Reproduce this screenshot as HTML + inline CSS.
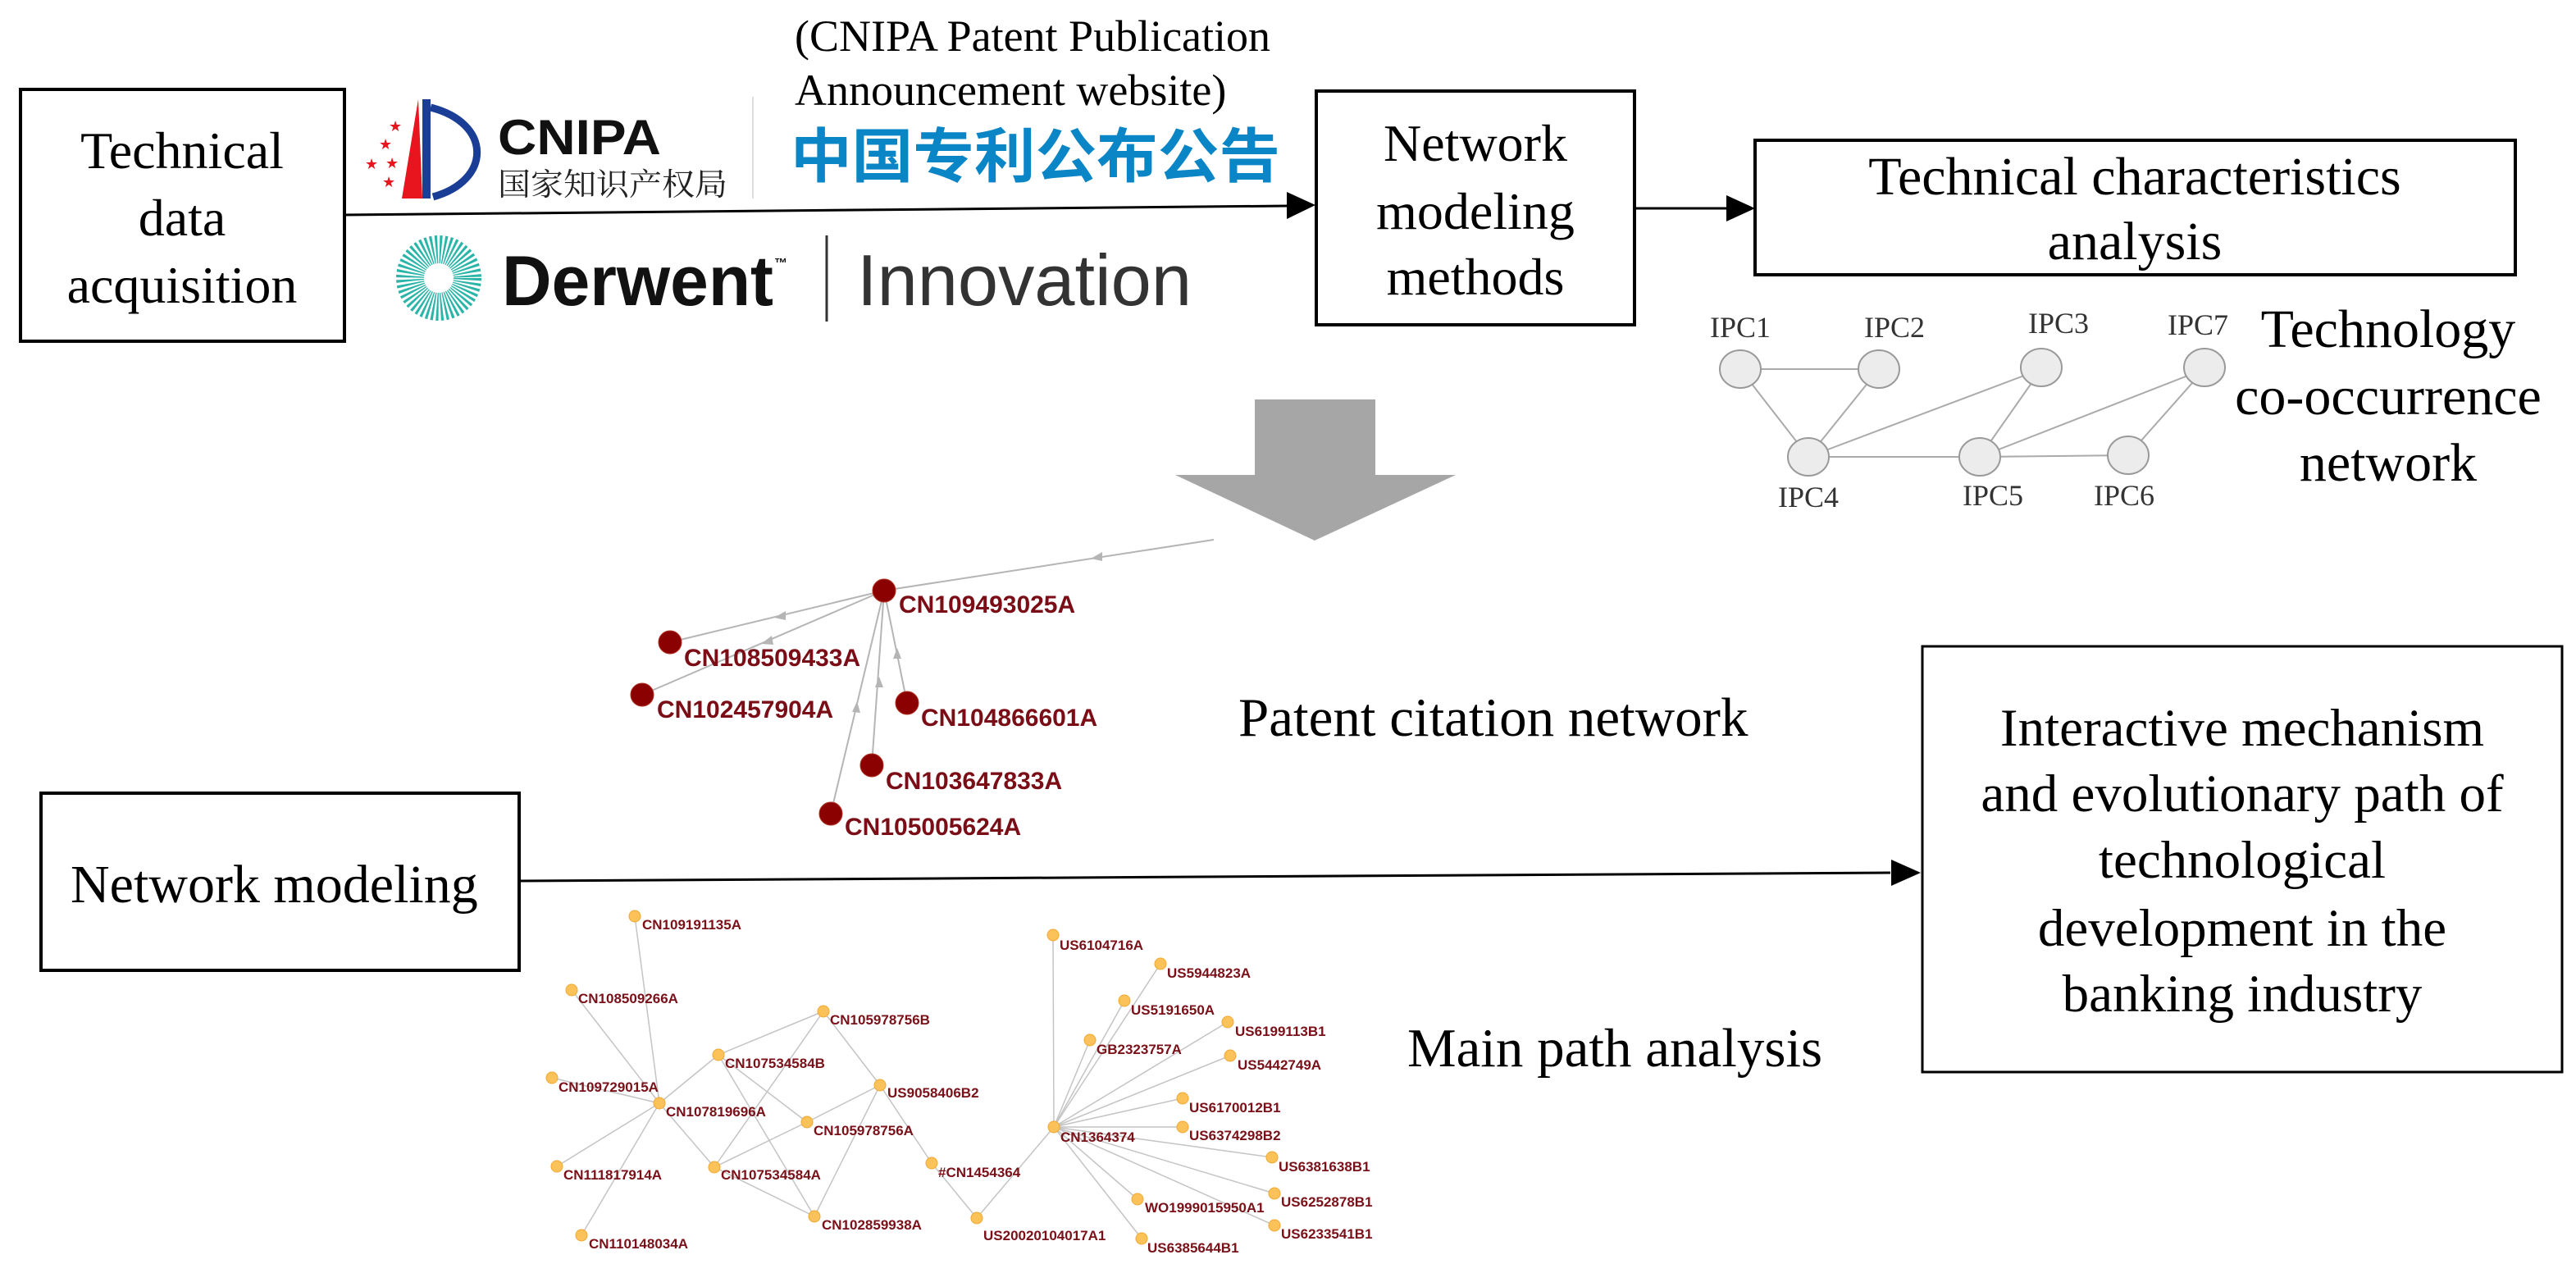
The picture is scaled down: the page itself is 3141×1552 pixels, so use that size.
<!DOCTYPE html>
<html><head><meta charset="utf-8"><style>
html,body{margin:0;padding:0;background:#fff;}
svg{display:block;}
.s{font-family:"Liberation Serif",serif;fill:#000;}
.c{font-family:"Liberation Sans",Arial,sans-serif;font-weight:bold;fill:#7a0d16;}
.m{font-family:"Liberation Sans",Arial,sans-serif;font-weight:bold;fill:#7a1018;font-size:17px;}
</style></head><body>
<svg width="3141" height="1552" viewBox="0 0 3141 1552" xmlns="http://www.w3.org/2000/svg">
<rect width="3141" height="1552" fill="#fff"/>

<!-- Boxes -->
<rect x="25" y="109" width="395" height="307" fill="none" stroke="#000" stroke-width="4"/>
<text class="s" font-size="64" text-anchor="middle" x="222" y="205">Technical</text>
<text class="s" font-size="64" text-anchor="middle" x="222" y="287">data</text>
<text class="s" font-size="64" text-anchor="middle" x="222" y="369">acquisition</text>

<rect x="1605" y="111" width="388" height="285" fill="none" stroke="#000" stroke-width="4"/>
<text class="s" font-size="64" text-anchor="middle" x="1799" y="196">Network</text>
<text class="s" font-size="64" text-anchor="middle" x="1799" y="279">modeling</text>
<text class="s" font-size="64" text-anchor="middle" x="1799" y="359">methods</text>

<rect x="2140" y="171" width="927" height="164" fill="none" stroke="#000" stroke-width="4"/>
<text class="s" font-size="66" text-anchor="middle" x="2603" y="237">Technical characteristics</text>
<text class="s" font-size="66" text-anchor="middle" x="2603" y="316">analysis</text>

<rect x="50" y="967" width="583" height="216" fill="none" stroke="#000" stroke-width="4"/>
<text class="s" font-size="66" x="86" y="1100">Network modeling</text>

<rect x="2344" y="788" width="780" height="519" fill="none" stroke="#000" stroke-width="3"/>
<g class="s" font-size="65" text-anchor="middle">
<text x="2734" y="909">Interactive mechanism</text>
<text x="2734" y="989">and evolutionary path of</text>
<text x="2734" y="1070">technological</text>
<text x="2734" y="1153">development in the</text>
<text x="2734" y="1233">banking industry</text>
</g>

<!-- Arrows -->
<line x1="420" y1="262" x2="1570" y2="251" stroke="#000" stroke-width="3"/>
<polygon points="1604,250 1569,234 1569,267" fill="#000"/>
<line x1="1993" y1="254" x2="2105" y2="254" stroke="#000" stroke-width="3"/>
<polygon points="2140,254 2105,238 2105,270" fill="#000"/>
<line x1="633" y1="1074" x2="2305" y2="1064" stroke="#000" stroke-width="3"/>
<polygon points="2342,1064 2306,1048 2306,1080" fill="#000"/>

<!-- Gray big arrow -->
<polygon points="1530,487 1677,487 1677,579 1775,579 1603,659 1433,579 1530,579" fill="#a6a6a6"/>

<!-- CNIPA text -->
<text class="s" font-size="54" x="969" y="62">(CNIPA Patent Publication</text>
<text class="s" font-size="54" x="969" y="128">Announcement website)</text>
<text x="964" y="216" font-family="'Noto Sans CJK SC','WenQuanYi Zen Hei',sans-serif" font-weight="bold" font-size="72" fill="#0a86c6" textLength="597" lengthAdjust="spacingAndGlyphs">中国专利公布公告</text>

<!-- CNIPA logo -->
<g>
<polygon points="510,121 515,242 490,242" fill="#e8141e"/>
<rect x="515" y="121" width="10" height="121" fill="#1a3e96"/>
<path d="M525,131 C600,150 600,220 528,240" fill="none" stroke="#1a3e96" stroke-width="9"/>
<g fill="#e8141e" font-size="18" font-family="'DejaVu Sans',sans-serif">
<text x="474" y="160">★</text><text x="462" y="182">★</text><text x="470" y="205">★</text><text x="445" y="206">★</text><text x="466" y="228">★</text>
</g>
<text x="607" y="188" font-family="'Liberation Sans',sans-serif" font-weight="bold" font-size="60" fill="#111" textLength="199" lengthAdjust="spacingAndGlyphs">CNIPA</text>
<text x="607" y="238" font-family="'Noto Serif CJK SC','Noto Sans CJK SC',serif" font-size="38" fill="#222" textLength="280" lengthAdjust="spacingAndGlyphs">国家知识产权局</text>
<line x1="918" y1="118" x2="918" y2="242" stroke="#ddd" stroke-width="2"/>
</g>

<!-- Derwent logo -->
<circle cx="535" cy="339" r="35" fill="none" stroke="#2bb5a8" stroke-width="34" stroke-dasharray="2.3 2.3"/>
<text x="612" y="372" font-family="'Liberation Sans',sans-serif" font-weight="bold" font-size="86" fill="#111" textLength="331" lengthAdjust="spacingAndGlyphs">Derwent</text>
<text x="944" y="326" font-family="'Liberation Sans',sans-serif" font-weight="bold" font-size="16" fill="#111">™</text>
<line x1="1008" y1="287" x2="1008" y2="392" stroke="#333" stroke-width="3"/>
<text x="1045" y="372" font-family="'Liberation Sans',sans-serif" font-size="88" fill="#333" textLength="408" lengthAdjust="spacingAndGlyphs">Innovation</text>

<!-- IPC network -->
<g stroke="#aaa" stroke-width="2">
<line x1="2122" y1="450" x2="2291" y2="450"/>
<line x1="2122" y1="450" x2="2205" y2="557"/>
<line x1="2291" y1="450" x2="2205" y2="557"/>
<line x1="2205" y1="557" x2="2489" y2="450"/>
<line x1="2205" y1="557" x2="2414" y2="557"/>
<line x1="2414" y1="557" x2="2489" y2="450"/>
<line x1="2414" y1="557" x2="2688" y2="450"/>
<line x1="2414" y1="557" x2="2595" y2="555"/>
<line x1="2595" y1="555" x2="2688" y2="450"/>
</g>
<g fill="#ececec" stroke="#999" stroke-width="2">
<ellipse cx="2122" cy="450" rx="25" ry="23"/>
<ellipse cx="2291" cy="450" rx="25" ry="23"/>
<ellipse cx="2489" cy="448" rx="25" ry="23"/>
<ellipse cx="2688" cy="448" rx="25" ry="23"/>
<ellipse cx="2205" cy="557" rx="25" ry="23"/>
<ellipse cx="2414" cy="557" rx="25" ry="23"/>
<ellipse cx="2595" cy="555" rx="25" ry="23"/>
</g>
<g font-family="'Liberation Serif',serif" font-size="36" fill="#333" text-anchor="middle">
<text x="2122" y="411">IPC1</text><text x="2310" y="411">IPC2</text><text x="2510" y="406">IPC3</text><text x="2680" y="408">IPC7</text>
<text x="2205" y="618">IPC4</text><text x="2430" y="616">IPC5</text><text x="2590" y="616">IPC6</text>
</g>
<g class="s" font-size="66" text-anchor="middle">
<text x="2912" y="423">Technology</text>
<text x="2912" y="505">co-occurrence</text>
<text x="2912" y="586">network</text>
</g>

<!-- Patent citation network -->
<g stroke="#b5b5b5" stroke-width="2">
<line x1="1078" y1="720" x2="1480" y2="658"/>
<line x1="1078" y1="720" x2="817" y2="783"/>
<line x1="1078" y1="720" x2="783" y2="847"/>
<line x1="1078" y1="720" x2="1106" y2="857"/>
<line x1="1078" y1="720" x2="1063" y2="933"/>
<line x1="1078" y1="720" x2="1013" y2="992"/>
</g>
<g fill="#b5b5b5">
<polygon points="1330,681 1344,673 1344,684"/>
<polygon points="944,753 958,745 958,756"/>
<polygon points="928,785 941,775 943,786"/>
<polygon points="1094,790 1089,803 1099,803"/>
<polygon points="1072,825 1067,838 1077,838"/>
<polygon points="1045,855 1039,868 1049,869"/>
</g>
<g fill="#8b0000" stroke="#b03020" stroke-width="1">
<circle cx="1078" cy="720" r="14"/>
<circle cx="817" cy="783" r="14"/>
<circle cx="783" cy="847" r="14"/>
<circle cx="1106" cy="857" r="14"/>
<circle cx="1063" cy="933" r="14"/>
<circle cx="1013" cy="992" r="14"/>
</g>
<g class="c" font-size="30">
<text x="1096" y="747">CN109493025A</text>
<text x="834" y="812">CN108509433A</text>
<text x="801" y="875">CN102457904A</text>
<text x="1123" y="885">CN104866601A</text>
<text x="1080" y="962">CN103647833A</text>
<text x="1030" y="1018">CN105005624A</text>
</g>
<text class="s" font-size="67" x="1510" y="897">Patent citation network</text>
<text class="s" font-size="67" x="1716" y="1300">Main path analysis</text>

<!-- Main path network -->
<g stroke="#c4c4c4" stroke-width="1.5">
<line x1="774" y1="1117" x2="804" y2="1345"/>
<line x1="697" y1="1207" x2="804" y2="1345"/>
<line x1="673" y1="1314" x2="804" y2="1345"/>
<line x1="679" y1="1422" x2="804" y2="1345"/>
<line x1="709" y1="1506" x2="804" y2="1345"/>
<line x1="804" y1="1345" x2="876" y2="1286"/>
<line x1="804" y1="1345" x2="871" y2="1423"/>
<line x1="876" y1="1286" x2="1004" y2="1233"/>
<line x1="876" y1="1286" x2="984" y2="1368"/>
<line x1="876" y1="1286" x2="993" y2="1483"/>
<line x1="1004" y1="1233" x2="871" y2="1423"/>
<line x1="1004" y1="1233" x2="1073" y2="1323"/>
<line x1="871" y1="1423" x2="984" y2="1368"/>
<line x1="871" y1="1423" x2="993" y2="1483"/>
<line x1="984" y1="1368" x2="1073" y2="1323"/>
<line x1="993" y1="1483" x2="1073" y2="1323"/>
<line x1="1073" y1="1323" x2="1136" y2="1418"/>
<line x1="1136" y1="1418" x2="1191" y2="1485"/>
<line x1="1191" y1="1485" x2="1285" y2="1374"/>
<line x1="1284" y1="1140" x2="1285" y2="1374"/>
<line x1="1415" y1="1175" x2="1285" y2="1374"/>
<line x1="1371" y1="1220" x2="1285" y2="1374"/>
<line x1="1497" y1="1246" x2="1285" y2="1374"/>
<line x1="1329" y1="1268" x2="1285" y2="1374"/>
<line x1="1500" y1="1287" x2="1285" y2="1374"/>
<line x1="1442" y1="1339" x2="1285" y2="1374"/>
<line x1="1442" y1="1374" x2="1285" y2="1374"/>
<line x1="1551" y1="1411" x2="1285" y2="1374"/>
<line x1="1554" y1="1455" x2="1285" y2="1374"/>
<line x1="1387" y1="1462" x2="1285" y2="1374"/>
<line x1="1554" y1="1494" x2="1285" y2="1374"/>
<line x1="1392" y1="1510" x2="1285" y2="1374"/>
</g>
<g fill="#fcc25a" stroke="#f0a830" stroke-width="1">
<circle cx="774" cy="1117" r="7"/><circle cx="697" cy="1207" r="7"/><circle cx="673" cy="1314" r="7"/>
<circle cx="804" cy="1345" r="7"/><circle cx="679" cy="1422" r="7"/><circle cx="709" cy="1506" r="7"/>
<circle cx="876" cy="1286" r="7"/><circle cx="1004" cy="1233" r="7"/><circle cx="1073" cy="1323" r="7"/>
<circle cx="984" cy="1368" r="7"/><circle cx="871" cy="1423" r="7"/><circle cx="993" cy="1483" r="7"/>
<circle cx="1136" cy="1418" r="7"/><circle cx="1191" cy="1485" r="7"/><circle cx="1285" cy="1374" r="7"/>
<circle cx="1284" cy="1140" r="7"/><circle cx="1415" cy="1175" r="7"/><circle cx="1371" cy="1220" r="7"/>
<circle cx="1497" cy="1246" r="7"/><circle cx="1329" cy="1268" r="7"/><circle cx="1500" cy="1287" r="7"/>
<circle cx="1442" cy="1339" r="7"/><circle cx="1442" cy="1374" r="7"/><circle cx="1551" cy="1411" r="7"/>
<circle cx="1554" cy="1455" r="7"/><circle cx="1387" cy="1462" r="7"/><circle cx="1554" cy="1494" r="7"/>
<circle cx="1392" cy="1510" r="7"/>
</g>
<g class="m">
<text x="783" y="1133">CN109191135A</text>
<text x="705" y="1223">CN108509266A</text>
<text x="681" y="1331">CN109729015A</text>
<text x="812" y="1361">CN107819696A</text>
<text x="687" y="1438">CN111817914A</text>
<text x="718" y="1522">CN110148034A</text>
<text x="884" y="1302">CN107534584B</text>
<text x="1012" y="1249">CN105978756B</text>
<text x="1082" y="1338">US9058406B2</text>
<text x="992" y="1384">CN105978756A</text>
<text x="879" y="1438">CN107534584A</text>
<text x="1002" y="1499">CN102859938A</text>
<text x="1144" y="1435">#CN1454364</text>
<text x="1199" y="1512">US20020104017A1</text>
<text x="1293" y="1392">CN1364374</text>
<text x="1292" y="1158">US6104716A</text>
<text x="1423" y="1192">US5944823A</text>
<text x="1379" y="1237">US5191650A</text>
<text x="1506" y="1263">US6199113B1</text>
<text x="1337" y="1285">GB2323757A</text>
<text x="1509" y="1304">US5442749A</text>
<text x="1450" y="1356">US6170012B1</text>
<text x="1450" y="1390">US6374298B2</text>
<text x="1559" y="1428">US6381638B1</text>
<text x="1562" y="1471">US6252878B1</text>
<text x="1396" y="1478">WO1999015950A1</text>
<text x="1562" y="1510">US6233541B1</text>
<text x="1399" y="1527">US6385644B1</text>
</g>
</svg>
</body></html>
